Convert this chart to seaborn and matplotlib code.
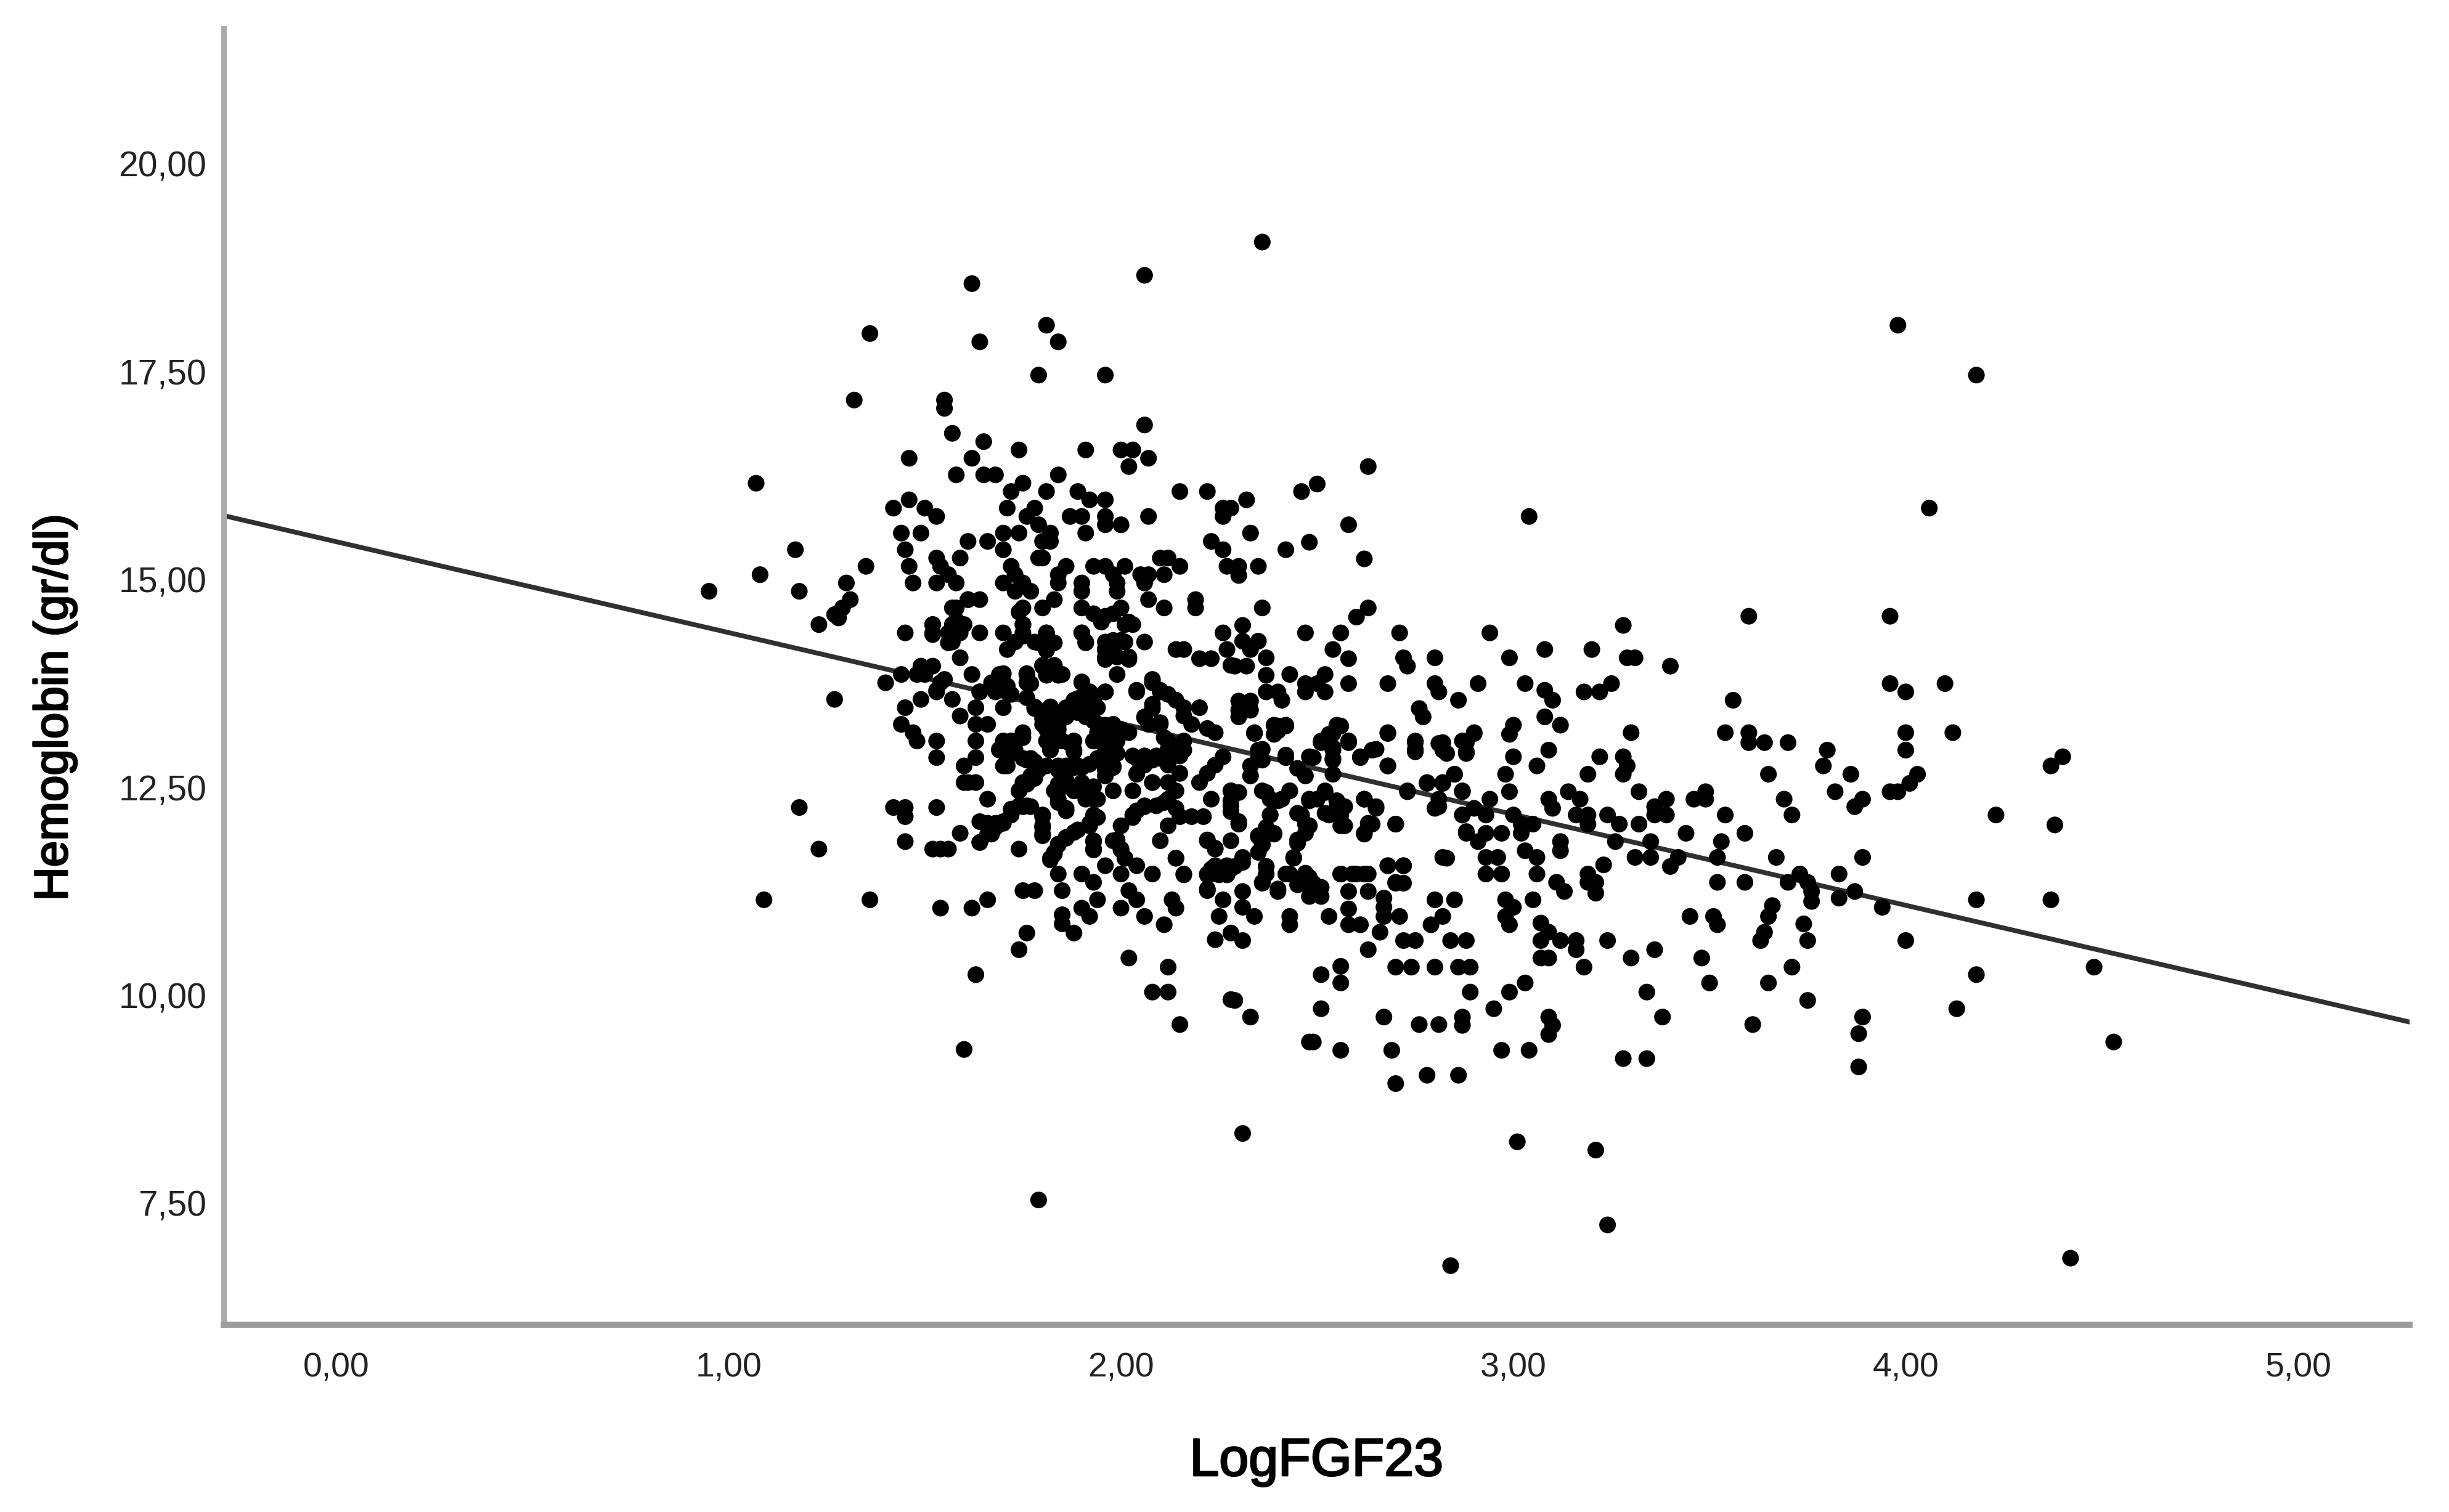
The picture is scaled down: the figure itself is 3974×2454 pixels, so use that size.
import pandas as pd
import matplotlib
matplotlib.use('Agg')
import matplotlib.pyplot as plt
import matplotlib.patheffects as pe
import seaborn as sns

# (LogFGF23, Hemoglobin) pairs, region by region
upper_left = [
    (1.62,18.56),(2.06,18.66),(1.36,17.96),(1.64,17.86),(1.81,18.06),(1.84,17.86),(1.79,17.46),(1.96,17.46),
    (1.32,17.16),(1.55,17.16),(1.55,17.06),(2.06,16.86),(1.57,16.76),(1.65,16.66),(1.46,16.46),(1.62,16.46),
    (1.74,16.56),(1.91,16.56),(2.00,16.56),(2.03,16.56),(2.07,16.46),(2.02,16.36),(1.58,16.26),(1.65,16.26),
    (1.68,16.26),(1.84,16.26),(1.75,16.16),(1.07,16.16),(1.72,16.06),(1.81,16.06),(1.89,16.06),(2.15,16.06),
    (2.22,16.06),(1.46,15.96),(1.42,15.86),(1.50,15.86),(1.53,15.76),(1.71,15.86),(1.78,15.86),(1.76,15.76),
    (1.92,15.96),(1.96,15.96),(1.87,15.76),(1.90,15.76),(1.96,15.76),(1.96,15.66),(2.00,15.66),(2.07,15.76),
    (1.79,15.66),(2.26,15.86),(2.26,15.76),(1.44,15.56),(1.49,15.56),(1.70,15.56),(1.74,15.56),(1.82,15.56),
    (1.91,15.56),(1.61,15.46),(1.66,15.46),(1.80,15.46),(1.82,15.46),(1.45,15.36),(1.17,15.36),(1.70,15.36),
    (1.79,15.26),(1.80,15.26),(1.53,15.26),(1.59,15.26),(2.23,15.46),(2.26,15.36),(2.10,15.26),(2.12,15.26),
    (1.35,15.16),(1.46,15.16),(1.54,15.16),(1.72,15.16),(1.86,15.16),(1.93,15.16),(1.96,15.16),(2.01,15.16),
    (2.15,15.16),(2.27,15.16),(1.08,15.06),(1.56,15.06),(1.73,15.06),(1.84,15.06),(1.98,15.06),(2.05,15.06),
    (2.07,15.06),(2.11,15.06),(0.95,14.86),(1.18,14.86),(1.47,14.96),(1.30,14.96),(1.53,14.96),(1.58,14.96),
    (1.70,14.96),(1.75,14.96),(1.84,14.96),(1.90,14.96),(1.99,14.96),(2.06,14.96),(1.31,14.76),(1.29,14.66),
    (1.27,14.58),(1.61,14.76),(1.57,14.66),(1.73,14.86),(1.77,14.86),(1.83,14.76),(1.90,14.86),(1.99,14.86),
    (2.07,14.76),(2.19,14.76),(2.19,14.66),(2.11,14.66),(1.75,14.66),(1.80,14.66),(1.90,14.66),(2.00,14.66),
]

lower_left = [
    (1.23,14.46),(1.28,14.54),(1.45,14.36),(1.52,14.46),(1.52,14.36),(1.57,14.46),(1.59,14.46),(1.56,14.36),
    (1.59,14.36),(1.57,14.25),(1.64,14.36),(1.70,14.36),(1.75,14.46),(1.75,14.36),(1.73,14.25),(1.71,14.16),
    (1.78,14.25),(1.81,14.36),(1.81,14.25),(1.81,14.15),(1.90,14.36),(1.91,14.25),(1.95,14.49),(2.01,14.46),
    (2.06,14.25),(1.96,14.25),(1.98,14.25),(2.01,14.25),(1.96,14.15),(1.98,14.15),(2.02,14.04),(1.96,14.04),
    (1.99,13.86),(2.14,14.16),(2.16,14.16),(2.20,14.05),(2.23,14.05),(2.26,14.36),(2.27,14.16),(2.28,13.97),
    (1.59,14.06),(1.49,13.96),(1.52,13.96),(1.48,13.86),(1.50,13.86),(1.44,13.86),(1.40,13.76),(1.62,13.86),
    (1.69,13.86),(1.67,13.76),(1.64,13.65),(1.70,13.76),(1.71,13.65),(1.76,13.86),(1.76,13.76),(1.80,13.96),
    (1.83,13.96),(1.85,13.86),(1.81,13.86),(1.54,13.76),(1.53,13.65),(1.49,13.56),(1.57,13.56),(1.45,13.46),
    (1.27,13.56),(1.63,13.46),(1.70,13.46),(1.59,13.36),(1.63,13.26),(1.66,13.26),(1.44,13.26),(1.47,13.16),
    (1.48,13.06),(1.53,13.06),(1.63,13.06),(1.53,12.86),(1.63,12.86),(1.60,12.76),(1.60,12.56),(1.61,12.56),
    (1.63,12.56),(1.66,12.36),(1.70,13.06),(1.69,12.95),(1.72,13.06),(1.75,13.16),(1.73,12.95),(1.70,12.76),
    (1.75,12.85),(1.77,12.85),(1.79,12.74),(1.77,12.64),(1.75,12.56),(1.74,12.46),
    (1.98,12.46),(2.03,12.46),(2.08,12.56),(2.15,12.67),(2.12,12.56),(2.14,12.46),
    (2.23,12.36),(2.28,12.46),(2.28,12.28),(2.12,12.36),(2.09,12.28),(2.06,12.28),(2.03,12.17),(2.14,12.25),
    (2.15,12.15),(2.12,12.04),(2.18,12.15),(2.21,12.15),(1.93,12.15),(1.92,12.04),(2.00,12.04),(2.10,11.86),
    (1.74,12.28),(1.76,12.28),(1.72,12.17),(1.70,12.07),(1.66,12.07),(1.68,12.02),(1.66,11.94),(1.64,11.84),
    (1.80,12.15),(1.80,12.04),(1.80,11.94),(1.74,11.76),(1.88,11.96),(1.86,11.89),(1.84,11.81),(1.83,11.70),
    (1.82,11.63),(1.93,11.86),(1.93,11.76),(1.98,11.86),(2.00,11.76),(2.01,11.65),(1.18,12.26),(1.42,12.26),
    (1.45,12.26),(1.45,12.15),(1.53,12.26),(1.59,11.95),(1.45,11.85),(1.52,11.76),(1.54,11.76),(1.56,11.76),
    (1.23,11.76),(1.09,11.15),(1.36,11.15),(1.54,11.05),(1.62,11.05),(1.66,11.15),(1.75,11.26),(1.78,11.26),
    (1.85,11.26),(1.84,11.46),(1.90,11.46),(1.96,11.56),(1.93,11.36),(1.94,11.15),(1.90,11.05),(1.92,10.95),
    (1.85,10.97),(1.85,10.86),(1.88,10.75),(2.00,11.46),(2.04,11.56),(2.08,11.46),(2.02,11.26),(2.04,11.15),
    (2.00,11.05),(2.06,10.95),(2.11,10.85),(2.14,11.65),(2.16,11.46),(2.13,11.15),(2.14,11.05),(2.22,11.86),
    (2.24,11.76),(2.22,11.26),(2.26,11.15),(2.25,10.95),(2.24,10.67),(2.28,10.75),(2.22,11.46),(2.24,11.56),
    (2.24,11.46),(2.27,11.56),(2.27,11.46),(1.76,10.75),(1.74,10.55),(1.63,10.25),(2.02,10.45),(2.12,10.34),
    (2.08,10.04),(2.12,10.04),(2.28,9.95),(2.15,9.65),(1.60,9.35),(1.79,7.54),
]

# dense blob around the line at x~1.9
core = [
    (1.76,13.58),(1.78,13.47),(1.82,13.47),(1.80,13.37),(1.84,13.37),(1.80,13.26),(1.84,13.26),(1.82,13.16),
    (1.84,13.06),(1.82,12.95),(1.88,13.06),(1.88,12.95),(1.84,12.74),(1.88,12.74),(1.90,12.74),(1.84,12.54),
    (1.84,12.46),(1.84,12.36),(1.86,12.25),(1.90,12.56),(1.88,12.46),(1.92,12.46),(1.94,12.36),(1.90,13.76),
    (1.92,13.65),(1.96,13.65),(1.88,13.55),(1.93,13.55),(1.86,13.46),(1.94,13.46),(1.94,13.26),(1.98,13.26),
    (2.02,13.16),(1.94,13.16),(1.97,13.16),(2.00,13.16),(1.93,13.06),(1.96,13.06),(1.99,13.06),(1.96,12.95),
    (1.98,12.95),(1.94,12.85),(1.96,12.85),(1.96,12.74),(1.98,12.74),(1.96,12.64),(2.04,13.65),(2.08,13.76),
    (2.10,13.65),(2.14,13.55),(2.08,13.45),(2.06,13.34),(2.10,13.26),(2.07,13.26),(2.16,13.46),(2.20,13.46),
    (2.16,13.36),(2.18,13.26),(2.22,13.21),(2.24,13.16),(2.12,13.06),(2.14,12.95),(2.16,12.95),(2.04,12.85),
    (2.06,12.85),(2.10,12.85),(2.12,12.85),(2.04,12.67),(2.06,12.77),(2.12,12.77),(2.20,12.56),(2.22,12.67),
    (2.24,12.77),(2.26,12.87),
]

# second pass over the crowded part, from closer crops
core_left_extra = [
    (1.78,13.45),(1.80,13.33),(1.83,13.33),(1.81,13.20),(1.84,13.20),(1.81,13.06),(1.85,13.06),(1.82,12.96),
    (1.87,13.03),(1.88,12.93),(1.86,13.35),(1.89,13.40),(1.93,13.30),(1.96,13.25),(2.00,13.20),(1.93,13.06),
    (1.96,13.06),(1.99,13.11),(1.96,12.91),(1.99,12.91),(1.96,12.71),(1.98,12.76),(1.92,12.78),(1.89,12.76),
    (1.75,13.10),(1.71,13.00),(1.69,12.96),(1.72,12.96),(1.71,12.86),(1.71,12.76),(1.76,12.83),(1.78,12.81),
    (1.79,12.71),(1.81,12.76),(1.84,12.76),(1.86,12.76),(1.88,12.76),(1.78,12.61),(1.76,12.54),(1.74,12.46),
    (1.84,12.71),(1.86,12.59),(1.83,12.46),(1.84,12.32),(1.86,12.22),(1.90,12.51),(1.92,12.46),(1.93,12.51),
    (1.91,12.36),(1.93,12.36),(1.93,12.17),(1.92,12.07),(1.94,12.14),(1.72,12.24),(1.75,12.27),(1.77,12.27),
    (1.80,12.17),(1.80,12.02),(1.80,11.92),(1.64,12.09),(1.68,12.07),(1.67,11.94),(1.64,11.84),(1.70,12.09),
    (1.89,11.99),(1.86,11.90),(1.84,11.82),(1.83,11.72),(1.82,11.65),(1.93,11.85),(1.93,11.75),(1.99,11.87),
    (2.00,11.75),(2.01,11.65),(2.03,12.88),(2.05,12.78),(2.06,12.88),(2.09,12.88),(2.04,12.66),(2.08,12.83),
    (2.06,12.78),(2.08,13.50),(2.06,13.35),(2.10,13.28),(2.11,13.10),(2.12,12.96),(2.08,13.80),(2.04,13.67),
    (2.10,13.67),(2.12,13.62),(2.08,12.56),(2.11,12.32),(2.06,12.27),(2.04,12.22),(2.03,12.14),(1.90,13.77),
    (1.92,13.65),(1.96,13.65),(1.89,13.57),(1.87,13.45),(1.92,13.48),(1.91,13.35),(1.70,13.87),(1.68,13.77),
    (1.71,13.72),(1.64,13.65),(1.68,13.65),(1.72,13.62),(1.76,13.87),(1.77,13.75),(1.80,13.97),(1.83,13.97),
    (1.81,13.85),(1.84,13.85),(1.55,13.80),(1.53,13.67),(1.58,14.66),(1.58,14.51),(1.60,14.46),(1.57,14.34),
    (1.56,14.24),(1.52,14.46),(1.52,14.34),(1.61,14.76),(1.64,14.76),(1.74,14.61),(1.75,14.46),(1.75,14.32),
    (1.79,14.24),(1.81,14.36),(1.83,14.24),(1.81,14.17),(1.90,14.36),(1.91,14.24),(1.96,14.56),(1.93,14.59),
    (1.98,14.59),(2.02,14.49),(2.03,14.46),(1.96,14.17),(1.98,14.27),(2.00,14.27),(1.96,14.07),(1.99,14.07),
    (2.02,14.07),(1.98,14.14),
]

core_right_extra = [
    (2.23,11.52),(2.26,11.52),(2.28,11.52),(2.31,11.60),(2.22,11.45),(2.25,11.45),(2.27,11.45),(2.22,11.87),
    (2.24,11.77),(2.28,11.86),(2.28,12.46),(2.28,12.34),(2.28,12.21),(2.30,12.09),(2.36,12.46),(2.38,12.36),
    (2.41,12.36),(2.43,12.46),(2.38,12.17),(2.37,12.02),(2.35,11.92),(2.39,11.94),(2.36,11.82),(2.35,11.72),
    (2.45,12.19),(2.48,12.04),(2.45,11.87),(2.52,12.46),(2.48,12.36),(2.50,12.36),(2.55,12.34),(2.57,12.27),
    (2.53,12.17),(2.56,12.04),(2.15,12.88),(2.16,13.06),(2.36,12.96),(2.36,12.83),(2.34,13.15),(2.33,12.76),
    (2.33,12.64),(2.39,13.25),(2.42,13.25),(2.40,13.18),(2.42,12.86),(2.45,12.73),(2.47,12.64),(2.49,12.86),
    (2.51,13.06),(2.55,13.25),(2.54,13.15),(2.54,12.98),(2.54,12.83),(2.54,12.66),(2.58,13.06),(2.61,12.86),
    (2.65,12.96),(2.68,13.15),(2.68,12.76),(2.75,13.06),(2.75,12.96),(2.81,13.03),(2.83,12.91),(2.87,13.06),
    (2.88,12.93),(2.90,13.15),(2.73,12.46),(2.78,12.56),(2.82,12.56),(2.85,12.66),(2.87,12.46),(2.81,12.27),
    (2.87,12.17),(2.88,11.97),(2.83,11.65),(2.70,12.06),(2.62,12.36),(2.65,12.27),(2.63,12.07),(2.62,11.94),
    (2.68,11.56),(2.72,11.56),(2.70,11.35),(2.72,11.35),(2.56,11.46),(2.59,11.46),(2.62,11.46),(2.44,11.65),
    (2.37,11.55),(2.36,11.35),(2.40,11.28),(2.42,11.46),(2.47,11.47),(2.49,11.35),(2.45,11.33),(2.14,11.65),
    (2.16,11.45),(2.22,11.28),
]

upper_right = [
    (2.36,19.06),(3.98,18.06),(4.18,17.46),(2.63,16.36),(2.50,16.15),(2.46,16.06),(2.32,15.96),(2.28,15.86),
    (3.04,15.76),(4.06,15.86),(2.33,15.56),(2.58,15.66),(2.48,15.45),(2.42,15.36),(2.62,15.25),(2.35,15.16),
    (2.30,15.16),(2.30,15.05),(2.36,14.66),(2.63,14.66),(2.60,14.55),(2.31,14.45),(2.47,14.36),(2.56,14.36),
    (2.71,14.36),(2.94,14.36),(3.28,14.45),(3.60,14.56),(3.96,14.56),(2.31,14.26),(2.35,14.26),(2.33,14.16),
    (2.54,14.16),(3.08,14.16),(3.20,14.16),(2.37,14.06),(2.58,14.05),(2.72,14.06),(2.73,13.96),(2.80,14.06),
    (2.99,14.06),(3.29,14.06),(3.31,14.06),(3.40,13.96),(2.29,13.96),(2.32,13.96),(2.37,13.85),(2.43,13.86),
    (2.52,13.86),(2.47,13.75),(2.50,13.75),(2.47,13.65),(2.52,13.65),(2.58,13.75),(2.68,13.75),(2.80,13.75),
    (2.81,13.65),(2.91,13.75),(3.03,13.75),(3.08,13.67),(3.10,13.55),(3.18,13.65),(3.22,13.65),(3.25,13.75),
    (2.37,13.65),(2.40,13.65),(2.41,13.55),(2.86,13.55),(3.56,13.55),(3.96,13.75),(4.00,13.65),(4.10,13.75),
    (2.76,13.45),(2.77,13.35),(2.30,13.54),(2.33,13.54),(2.30,13.43),(2.33,13.43),(2.30,13.35),(3.08,13.35),
    (3.12,13.25),(3.00,13.25),(2.99,13.14),(2.40,13.24),(2.42,13.24),(2.39,13.14),(2.56,13.24),(2.53,13.14),
    (2.34,13.16),(2.68,13.16),(2.90,13.16),(3.30,13.16),(3.54,13.16),(3.60,13.16),(4.00,13.16),(4.12,13.16),
]

lower_right = [
    (2.51,13.04),(2.58,13.04),(2.75,13.04),(2.82,13.04),(2.88,13.04),(2.64,12.95),(2.54,12.95),(2.75,12.93),
    (2.82,12.95),(2.88,12.91),(2.61,12.87),(3.09,12.95),(3.00,12.87),(2.54,12.85),(2.48,12.87),(2.42,12.89),
    (2.35,12.95),(2.35,12.85),(3.22,12.87),(3.28,12.87),(3.29,12.76),(3.28,12.66),(3.19,12.66),(3.60,13.04),
    (3.64,13.04),(3.70,13.04),(3.80,12.95),(3.79,12.76),(3.86,12.66),(4.00,12.95),(4.40,12.87),(4.37,12.76),
    (3.06,12.76),(2.98,12.66),(2.68,12.76),(3.65,12.66),(4.03,12.66),(4.01,12.55),(3.98,12.45),(3.96,12.45),
    (3.82,12.45),(3.89,12.36),(3.87,12.27),(3.32,12.45),(3.49,12.45),(3.49,12.36),(3.46,12.36),(3.39,12.36),
    (3.36,12.27),(3.39,12.17),(3.36,12.17),(3.54,12.17),(3.69,12.36),(3.71,12.17),(4.23,12.17),(4.38,12.05),
    (3.14,12.45),(3.17,12.36),(3.16,12.17),(3.19,12.17),(3.19,12.06),(3.09,12.36),(3.10,12.25),(2.99,12.45),
    (2.94,12.36),(2.93,12.17),(3.00,12.17),(3.02,12.06),(3.05,12.06),(3.24,12.17),(3.27,12.06),(3.32,12.06),
    (3.44,11.95),(3.53,11.85),(3.59,11.95),(3.26,11.85),(3.35,11.85),(2.78,12.55),(2.82,12.55),(2.85,12.66),
    (2.87,12.45),(2.73,12.45),(2.81,12.36),(2.80,12.25),(2.87,12.17),(2.90,12.25),(2.88,11.95),(2.93,11.95),
    (2.97,11.95),(2.91,11.85),(3.02,11.95),(3.03,11.74),(3.06,11.66),(3.12,11.85),(3.12,11.74),(2.93,11.66),
    (2.96,11.66),(2.93,11.46),(2.97,11.46),(3.06,11.46),(2.82,11.66),(3.31,11.66),(3.35,11.66),(3.40,11.55),
    (3.42,11.66),(3.52,11.66),(3.67,11.66),(3.89,11.66),(3.73,11.46),(3.70,11.36),(3.75,11.36),(3.76,11.25),
    (3.76,11.13),(3.83,11.46),(3.83,11.17),(3.87,11.25),(3.94,11.06),(3.23,11.57),(3.19,11.46),(3.21,11.36),
    (3.19,11.36),(3.21,11.23),(3.11,11.36),(3.13,11.25),(3.52,11.36),(3.59,11.36),(4.18,11.15),(4.37,11.15),
    (3.05,11.15),(2.98,11.15),(2.80,11.15),(2.85,11.15),(3.00,11.06),(2.98,10.95),(2.99,10.85),(2.82,10.95),
    (2.79,10.85),(3.45,10.95),(3.51,10.95),(3.52,10.85),(3.66,11.08),(3.65,10.95),(3.64,10.76),(3.63,10.66),
    (3.74,10.86),(3.75,10.66),(4.00,10.66),(3.24,10.66),(3.07,10.87),(3.09,10.76),(3.07,10.66),(3.12,10.66),
    (3.16,10.66),(3.16,10.55),(3.36,10.55),(3.30,10.45),(3.48,10.45),(3.07,10.45),(3.09,10.45),(3.18,10.34),
    (3.71,10.34),(3.50,10.15),(3.65,10.15),(4.48,10.34),(4.18,10.25),(3.34,10.04),(3.03,10.15),(2.99,10.04),
    (2.89,10.04),(2.95,9.84),(3.75,9.94),(4.13,9.84),(3.38,9.74),(3.61,9.65),(3.89,9.74),(3.88,9.54),
    (4.53,9.44),(3.09,9.74),(3.10,9.64),(3.09,9.53),(2.87,9.74),(2.87,9.64),(2.81,9.65),(2.76,9.65),
    (2.67,9.74),(2.51,9.84),(2.33,9.74),(3.28,9.24),(3.34,9.24),(3.88,9.14),(2.97,9.34),(3.04,9.34),
    (2.69,9.34),(2.56,9.34),(2.49,9.44),(2.48,9.44),(2.78,9.04),(2.86,9.04),(2.70,8.94),(2.31,8.34),
    (3.01,8.24),(3.21,8.14),(3.24,7.24),(4.42,6.84),(2.84,6.75),
]

middle = [
    (2.30,12.44),(2.37,12.44),(2.43,12.46),(2.40,12.34),(2.48,12.34),(2.52,12.44),(2.55,12.34),(2.52,12.19),
    (2.56,12.17),(2.55,12.27),(2.62,12.36),(2.65,12.25),(2.64,12.06),(2.62,11.95),(2.70,12.06),(2.57,12.04),
    (2.46,12.17),(2.47,12.06),(2.47,11.95),(2.45,11.83),(2.38,12.17),(2.37,11.99),(2.35,11.91),(2.39,11.95),
    (2.36,11.81),(2.30,12.06),(2.44,11.66),(2.31,11.66),(2.29,11.55),(2.37,11.55),(2.37,11.46),(2.43,11.46),
    (2.56,11.46),(2.60,11.46),(2.63,11.46),(2.68,11.56),(2.72,11.56),(2.70,11.36),(2.58,11.25),(2.63,11.25),
    (2.48,11.42),(2.48,11.30),(2.51,11.30),(2.48,11.19),(2.51,11.19),(2.36,11.36),(2.40,11.25),(2.31,11.25),
    (2.31,11.06),(2.34,10.95),(2.43,10.95),(2.43,10.85),(2.53,10.95),(2.58,11.04),(2.58,10.85),(2.61,10.85),
    (2.67,11.17),(2.67,11.06),(2.67,10.95),(2.71,10.95),(2.66,10.76),(2.31,10.66),(2.72,10.66),(2.75,10.66),
    (2.84,10.66),(2.88,10.66),(2.63,10.55),(2.56,10.35),(2.51,10.25),(2.56,10.15),(2.70,10.34),(2.74,10.34),
    (2.80,10.34),(2.86,10.34),(2.89,10.34),(2.29,9.94),
]

# fit line ends, at the two axis limits
fit_x = [-0.287, 5.284]
fit_y = [15.77, 9.68]

x_ticks = [0, 1, 2, 3, 4, 5]
x_labels = ['0,00', '1,00', '2,00', '3,00', '4,00', '5,00']
y_ticks = [7.5, 10, 12.5, 15, 17.5, 20]
y_labels = ['7,50', '10,00', '12,50', '15,00', '17,50', '20,00']

sns.set_theme(style='white')
plt.rcParams['font.family'] = ['Liberation Sans', 'DejaVu Sans']

df = pd.DataFrame(upper_left + lower_left + core + core_left_extra + core_right_extra
                  + upper_right + lower_right + middle,
                  columns=['LogFGF23', 'Hemoglobin'])

fig = plt.figure(figsize=(19.87, 12.27), dpi=200, facecolor='white')
ax = fig.add_axes([363 / 3974, (2454 - 2150) / 2454, (3910 - 363) / 3974, (2150 - 46) / 2454])

sns.scatterplot(data=df, x='LogFGF23', y='Hemoglobin', color='black', s=95,
                edgecolor='none', linewidth=0, ax=ax, zorder=3)
sns.lineplot(x=fit_x, y=fit_y, color='#303030', linewidth=2.8, ax=ax, zorder=2)

ax.set_xlim(-0.287, 5.284)
ax.set_ylim(6.04, 21.63)
ax.set_xticks(x_ticks, x_labels)
ax.set_yticks(y_ticks, y_labels)
ax.tick_params(axis='x', length=0, pad=16, labelsize=20, labelcolor='#222222')
ax.tick_params(axis='y', length=0, pad=10, labelsize=20.5, labelcolor='#222222')

ax.set_xlabel('LogFGF23', fontsize=31, color='black', va='baseline')
ax.set_ylabel('Hemoglobin (gr/dl)', fontsize=27.5, color='black', va='baseline')
ax.xaxis.set_label_coords(0.5, -0.1164)
ax.yaxis.set_label_coords(-0.0716, 0.4762)
# the labels sit heavier than regular weight in the original
for label in [ax.xaxis.label, ax.yaxis.label]:
    label.set_path_effects([pe.withStroke(linewidth=1.0, foreground='black')])

sns.despine(ax=ax)
ax.spines['left'].set_color('#aaaaaa')
ax.spines['left'].set_linewidth(3.2)
ax.spines['bottom'].set_color('#9c9c9c')
ax.spines['bottom'].set_linewidth(3.6)

fig.savefig('out.png', dpi=200, facecolor='white')
